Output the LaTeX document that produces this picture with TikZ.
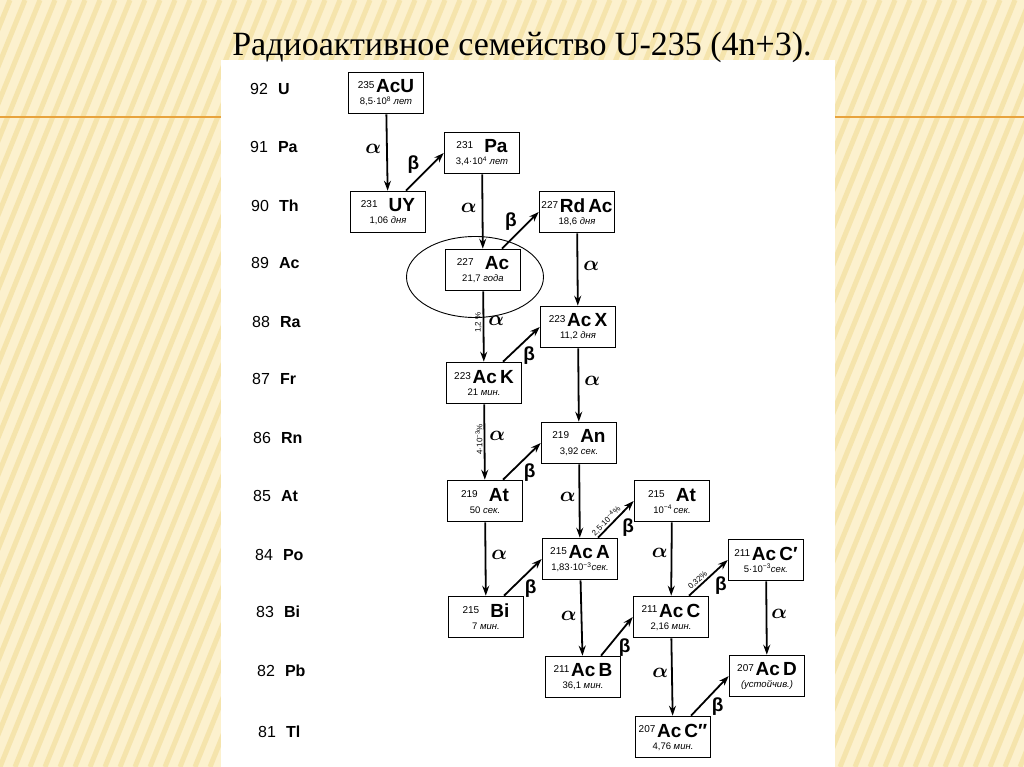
\documentclass[tikz,border=0pt]{standalone}
\usepackage{amsmath}
\usepackage{fontspec}
\setmainfont{Liberation Serif}
\setsansfont{Liberation Sans}
\usetikzlibrary{arrows.meta,shapes.geometric}
\definecolor{slidebg}{RGB}{252,241,206}
\definecolor{slidestripe}{RGB}{245,228,172}
\definecolor{slideline}{RGB}{232,163,61}
\newcommand{\nuc}[3]{{\fontsize{10}{10}\selectfont\raisebox{0.8ex}{#1}}\,{\fontsize{19}{19}\selectfont\bfseries #2}\\[0pt]{\fontsize{9.5}{9.5}\selectfont #3}}
\newcommand{\yr}{\textit{лет}}
\newcommand{\dy}{\textit{дня}}
\newcommand{\mn}{\textit{мин.}}
\newcommand{\sk}{\textit{сек.}}

\begin{document}
\begin{tikzpicture}[x=1pt, y=-1pt,
  nucbox/.style={draw, line width=1.6pt, fill=white, minimum width=75pt, minimum height=41pt,
                 inner sep=1pt, align=center, font=\sffamily},
  zrow/.style={anchor=west, inner sep=0pt, font=\sffamily\fontsize{16}{16}\selectfont},
  arr/.style={-{Stealth[length=10pt,width=7pt]}, line width=1.8pt},
  al/.style={font=\huge\boldmath, inner sep=1pt},
  bl/.style={font=\sffamily\bfseries\fontsize{19}{19}\selectfont, inner sep=1pt},
  pct/.style={font=\sffamily\fontsize{8}{8}\selectfont, inner sep=1pt}]
\useasboundingbox (0,0) rectangle (1024,767);
% slide background
\fill[slidebg] (0,0) rectangle (1024,767);
\begin{scope}
  \clip (0,0) rectangle (1024,767);
  \foreach \s in {-330,-315,...,1030} \draw[slidestripe, line width=5pt] (\s,767) -- (\s+310,0);
\end{scope}
\fill[white] (221,60) rectangle (835,767);
\draw[slideline, line width=2.5pt] (0,117) -- (221,117);
\draw[slideline, line width=2.5pt] (835,117) -- (1024,117);
\node[anchor=base, font=\fontsize{34}{34}\selectfont] (title) at (522,56) {Радиоактивное семейство U-235 (4n+3).};
% atomic numbers (left column)
\node[zrow] (z92) at (250,89)  {92\hspace{10pt}\textbf{U}};
\node[zrow] (z91) at (250,147) {91\hspace{10pt}\textbf{Pa}};
\node[zrow] (z90) at (251,206) {90\hspace{10pt}\textbf{Th}};
\node[zrow] (z89) at (251,263) {89\hspace{10pt}\textbf{Ac}};
\node[zrow] (z88) at (252,322) {88\hspace{10pt}\textbf{Ra}};
\node[zrow] (z87) at (252,379) {87\hspace{10pt}\textbf{Fr}};
\node[zrow] (z86) at (253,438) {86\hspace{10pt}\textbf{Rn}};
\node[zrow] (z85) at (253,496) {85\hspace{10pt}\textbf{At}};
\node[zrow] (z84) at (255,555) {84\hspace{10pt}\textbf{Po}};
\node[zrow] (z83) at (256,612) {83\hspace{10pt}\textbf{Bi}};
\node[zrow] (z82) at (257,671) {82\hspace{10pt}\textbf{Pb}};
\node[zrow] (z81) at (258,732) {81\hspace{10pt}\textbf{Tl}};
% ring round actinium
\node[draw, ellipse, line width=0.9pt, minimum width=137pt, minimum height=81pt] (ring) at (475,277) {};
% decay chain
\node[nucbox] (AcU)  at (386,93)  {\nuc{235}{AcU}{8,5·10\textsuperscript{8} \yr}};
\node[nucbox] (Pa)   at (482,153) {\nuc{231}{\enspace Pa}{3,4·10\textsuperscript{4} \yr}};
\node[nucbox] (UY)   at (388,212) {\nuc{231}{\enspace UY}{1,06 \dy}};
\node[nucbox] (RdAc) at (577,212) {\nuc{227}{Rd\,Ac}{18,6 \dy}};
\node[nucbox] (Ac)   at (483,270) {\nuc{227}{\enspace Ac}{21,7 \textit{года}}};
\node[nucbox] (AcX)  at (578,327) {\nuc{223}{Ac\,X}{11,2 \dy}};
\node[nucbox] (AcK)  at (484,383) {\nuc{223}{Ac\,K}{21 \mn}};
\node[nucbox] (An)   at (579,443) {\nuc{219}{\enspace An}{3,92 \sk}};
\node[nucbox] (AtA)  at (485,501) {\nuc{219}{\enspace At}{50 \sk}};
\node[nucbox] (AtB)  at (672,501) {\nuc{215}{\enspace At}{10\textsuperscript{−4}\,\sk}};
\node[nucbox] (AcA)  at (580,559) {\nuc{215}{Ac\,A}{1,83·10\textsuperscript{−3}\sk}};
\node[nucbox] (Bi)   at (486,617) {\nuc{215}{\enspace Bi}{7 \mn}};
\node[nucbox] (AcC)  at (671,617) {\nuc{211}{Ac\,C}{2,16 \mn}};
\node[nucbox] (AcCp) at (766,560) {\nuc{211}{Ac\,C′}{5·10\textsuperscript{−3}\sk}};
\node[nucbox] (AcB)  at (583,677) {\nuc{211}{Ac\,B}{36,1 \mn}};
\node[nucbox] (AcD)  at (767,676) {\nuc{207}{Ac\,D}{\textit{(устойчив.)}}};
\node[nucbox] (AcCs) at (673,737) {\nuc{207}{Ac\,C″}{4,76 \mn}};
% alpha decays
\draw[arr] (AcU) -- node[al, left=4pt, pos=0.45] (a1) {$\alpha$} (UY);
\draw[arr] (Pa) -- node[al, left=4pt, pos=0.45] (a2) {$\alpha$} (Ac);
\draw[arr] (RdAc) -- node[al, right=4pt, pos=0.45] (a3) {$\alpha$} (AcX);
\draw[arr] (Ac) -- node[pct, rotate=90, anchor=south, pos=0.43, xshift=-1pt] (p1) {1,2 \%}
  node[al, right=3pt, pos=0.42] (a4) {$\alpha$} (AcK);
\draw[arr] (AcX) -- node[al, right=4pt, pos=0.45] (a5) {$\alpha$} (An);
\draw[arr] (AcK) -- node[pct, rotate=90, anchor=south, pos=0.45, xshift=-1pt] (p2) {4·10\textsuperscript{−3}\%}
  node[al, right=3pt, pos=0.42] (a6) {$\alpha$} (AtA);
\draw[arr] (An) -- node[al, left=2pt, pos=0.45] (a7) {$\alpha$} (AcA);
\draw[arr] (AtA) -- node[al, right=4pt, pos=0.45] (a8) {$\alpha$} (Bi);
\draw[arr] (AtB) -- node[al, left=2pt, pos=0.42] (a9) {$\alpha$} (AcC);
\draw[arr] (AcA) -- node[al, left=3pt, pos=0.47] (a10) {$\alpha$} (AcB);
\draw[arr] (AcC) -- node[al, left=2pt, pos=0.45] (a11) {$\alpha$} (AcCs);
\draw[arr] (AcCp) -- node[al, right=3pt, pos=0.45] (a12) {$\alpha$} (AcD);
% beta decays
\draw[arr] ([xshift=18pt]UY.north) -- node[bl, above left=0pt, pos=0.4] (b1) {β} (Pa.west);
\draw[arr] ([xshift=19pt]Ac.north) -- node[bl, above left=0pt, pos=0.45] (b2) {β} (RdAc.west);
\draw[arr] ([xshift=19pt]AcK.north) -- node[bl, below right=0pt, pos=0.5] (b3) {β} (AcX.west);
\draw[arr] ([xshift=18pt]AtA.north) -- node[bl, below right=0pt, pos=0.5] (b4) {β} (An.west);
\draw[arr] ([xshift=18pt]AcA.north) -- node[pct, sloped, above, pos=0.34] (p3) {2,5·10\textsuperscript{−4}\%}
  node[bl, below right=1pt, pos=0.6] (b5) {β} (AtB.west);
\draw[arr] ([xshift=18pt]Bi.north) -- node[bl, below right=0pt, pos=0.5] (b6) {β} (AcA.west);
\draw[arr] ([xshift=18pt]AcC.north) -- node[pct, sloped, above, pos=0.32] (p4) {0,32\%}
  node[bl, below right=1pt, pos=0.6] (b7) {β} (AcCp.west);
\draw[arr] ([xshift=18pt]AcB.north) -- node[bl, below right=0pt, pos=0.5] (b8) {β} (AcC.west);
\draw[arr] ([xshift=18pt]AcCs.north) -- node[bl, below right=0pt, pos=0.5] (b9) {β} (AcD.west);
\end{tikzpicture}
\end{document}
